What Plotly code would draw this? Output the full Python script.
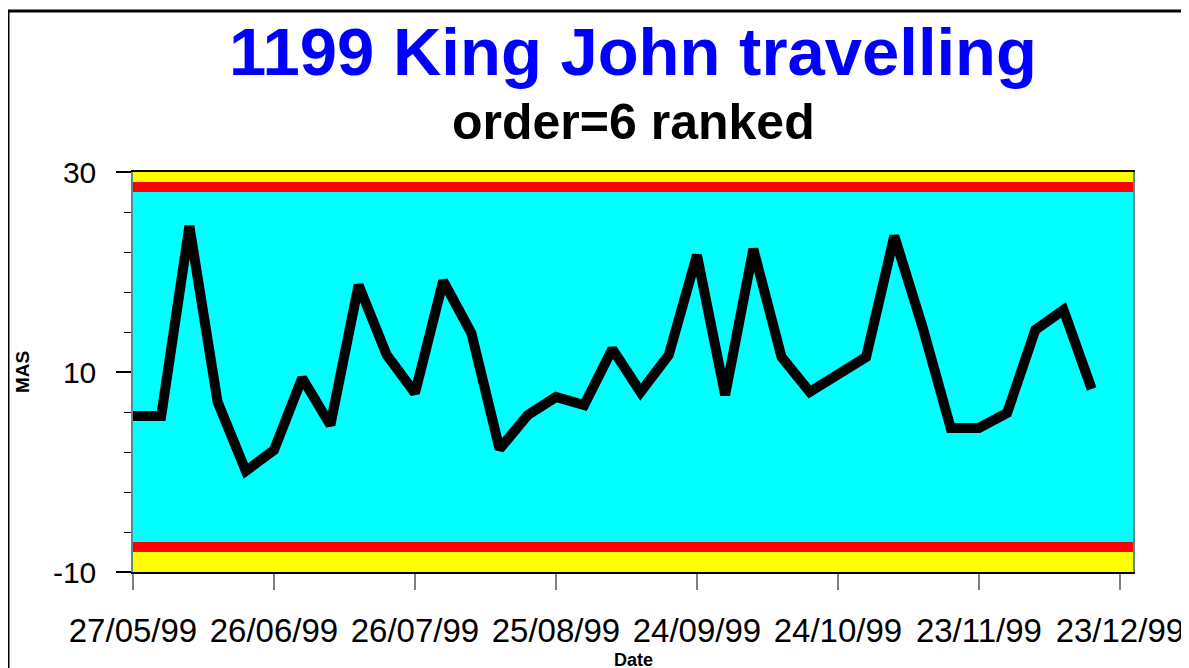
import plotly.graph_objects as go

# ---- data ----
dates = ["1999-05-27", "1999-06-02", "1999-06-08", "1999-06-14", "1999-06-20",
         "1999-06-26", "1999-07-02", "1999-07-08", "1999-07-14", "1999-07-20",
         "1999-07-26", "1999-08-01", "1999-08-07", "1999-08-13", "1999-08-19",
         "1999-08-25", "1999-08-31", "1999-09-06", "1999-09-12", "1999-09-18",
         "1999-09-24", "1999-09-30", "1999-10-06", "1999-10-12", "1999-10-18",
         "1999-10-24", "1999-10-30", "1999-11-05", "1999-11-11", "1999-11-17",
         "1999-11-23", "1999-11-29", "1999-12-05", "1999-12-11", "1999-12-17"]
mas = [5.6, 5.6, 24.6, 7.0, 0.1, 2.2, 9.4, 4.7, 18.7, 11.7,
       7.9, 19.1, 13.9, 2.3, 5.7, 7.5, 6.7, 12.3, 8.0, 11.7,
       21.7, 7.7, 22.3, 11.5, 8.0, 9.8, 11.5, 23.6, 14.5, 4.4,
       4.4, 5.9, 14.2, 16.2, 8.3]

tick_dates = ["1999-05-27", "1999-06-26", "1999-07-26", "1999-08-25",
              "1999-09-24", "1999-10-24", "1999-11-23", "1999-12-23"]
tick_labels = ["27/05/99", "26/06/99", "26/07/99", "25/08/99",
               "24/09/99", "24/10/99", "23/11/99", "23/12/99"]
y_tick_vals = [-10, 10, 30]
y_tick_text = ["-10", "10", "30"]
y_minor_vals = [-6, -2, 2, 6, 14, 18, 22, 26]

band_lo = [-10, -8, -7, 28, 29]
band_hi = [-8, -7, 28, 29, 30]
band_colors = ["#FFFF00", "#FF0000", "#00FFFF", "#FF0000", "#FFFF00"]

title_text = "1199 King John travelling"
subtitle_text = "order=6 ranked"

FONT = "Liberation Sans, Arial, sans-serif"

fig = go.Figure()
fig.add_trace(go.Scatter(
    x=dates, y=mas, mode="lines",
    line=dict(color="black", width=10),
    showlegend=False, hoverinfo="skip",
))

shapes = []
for lo, hi, c in zip(band_lo, band_hi, band_colors):
    shapes.append(dict(type="rect", xref="paper", yref="y", x0=0, x1=1,
                       y0=lo, y1=hi, fillcolor=c, line=dict(width=0),
                       layer="below"))
# outer frame
shapes.append(dict(type="line", xref="paper", yref="paper",
                   x0=-0.125, x1=-0.125, y0=1.4025, y1=-0.35,
                   line=dict(color="black", width=3)))
shapes.append(dict(type="line", xref="paper", yref="paper",
                   x0=-0.1265, x1=1.055, y0=1.4025, y1=1.4025,
                   line=dict(color="black", width=3)))
shapes.append(dict(type="line", xref="paper", yref="paper",
                   x0=1.055, x1=1.055, y0=1.4025, y1=-0.35,
                   line=dict(color="black", width=1.5)))

annotations = [
    dict(text=f"<b>{title_text}</b>", xref="paper", yref="paper",
         x=0.5, y=1.30, xanchor="center", yanchor="middle", showarrow=False,
         font=dict(family=FONT, size=67, color="#0000FF")),
    dict(text=f"<b>{subtitle_text}</b>", xref="paper", yref="paper",
         x=0.5, y=1.124, xanchor="center", yanchor="middle", showarrow=False,
         font=dict(family=FONT, size=50, color="black")),
    dict(text="<b>Date</b>", xref="paper", yref="paper",
         x=0.5, y=-0.22, xanchor="center", yanchor="middle", showarrow=False,
         font=dict(family=FONT, size=18, color="black")),
    dict(text="<b>MAS</b>", xref="paper", yref="paper", textangle=-90,
         x=-0.111, y=0.5, xanchor="center", yanchor="middle", showarrow=False,
         font=dict(family=FONT, size=19, color="black")),
]

fig.update_layout(
    width=1189, height=668,
    margin=dict(l=125, r=64, t=164, b=104, pad=0),
    paper_bgcolor="white", plot_bgcolor="white",
    shapes=shapes, annotations=annotations,
    font=dict(family=FONT, color="black"),
    xaxis=dict(
        type="date", range=["1999-05-27", "1999-12-25 19:00"],
        tickmode="array", tickvals=tick_dates, ticktext=tick_labels,
        ticks="outside", ticklen=16, tickcolor="#808080", tickwidth=1.5,
        showline=True, linecolor="black", linewidth=1.5, mirror=True,
        showgrid=False, zeroline=False,
        tickfont=dict(family=FONT, size=33, color="black"),
        ticklabelstandoff=13,
    ),
    yaxis=dict(
        range=[-10, 30], tickmode="array", tickvals=y_tick_vals,
        ticktext=y_tick_text,
        ticks="outside", ticklen=15, tickcolor="black", tickwidth=1.5,
        showline=True, linecolor="#5a8a8a", linewidth=1.5, mirror=True,
        showgrid=False, zeroline=False,
        tickfont=dict(family=FONT, size=30, color="black"),
        ticklabelstandoff=14,
        minor=dict(tickmode="array", tickvals=y_minor_vals, ticks="outside",
                   ticklen=7, tickcolor="black", tickwidth=1.2, showgrid=False),
    ),
)

fig.write_html("out.html")
